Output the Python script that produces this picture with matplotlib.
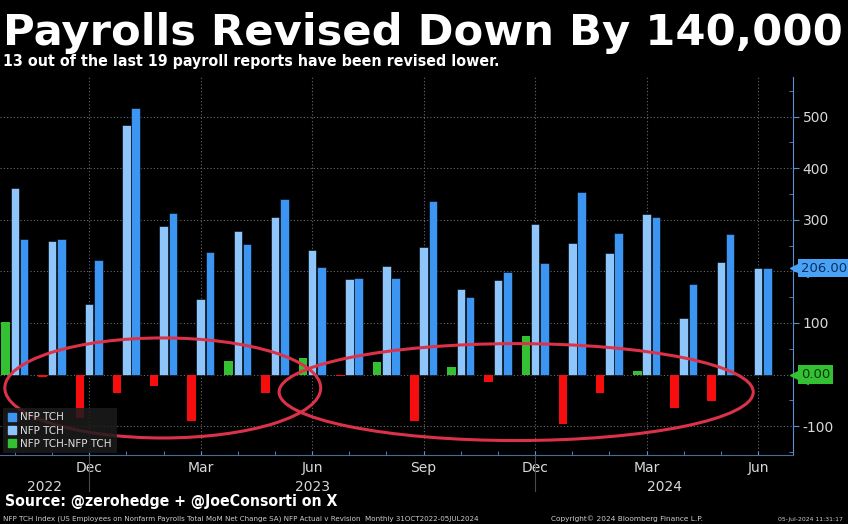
import matplotlib
matplotlib.use('Agg')
import matplotlib.pyplot as plt
import matplotlib.transforms as mtransforms
from matplotlib.patches import Ellipse, Patch
from matplotlib import font_manager
import numpy as np

# ---------------------------------------------------------------------------
# Data (thousands of jobs)
# ---------------------------------------------------------------------------
months = ['Oct', 'Nov', 'Dec', 'Jan', 'Feb', 'Mar', 'Apr', 'May', 'Jun', 'Jul',
          'Aug', 'Sep', 'Oct', 'Nov', 'Dec', 'Jan', 'Feb', 'Mar', 'Apr', 'May', 'Jun']
years = ['2022', '2023', '2024']
nfp_revised = [262, 263, 223, 517, 313, 237, 254, 340, 209, 188, 188,
               337, 151, 199, 217, 354, 275, 305, 175, 272, 206]
nfp_initial = [361, 259, 137, 483, 289, 146, 279, 305, 241, 185, 211,
               247, 166, 183, 292, 256, 236, 311, 109, 219, 206]
nfp_diff = [101, -4, -85, -35, -22, -90, 27, -35, 33, -2, 24,
            -90, 15, -15, 75, -95, -36, 7, -64, -51, 0]
labelled_months = ['Dec', 'Mar', 'Jun', 'Sep']

DARK_BLUE = '#3d95f2'
LIGHT_BLUE = '#8ec6fb'
GREEN = '#33c133'
RED = '#f70d0d'
ELLIPSE = '#dc3249'
TICK_TXT = '#d9d9d9'
SPINE = '#5d8fd0'

W, H = 848, 524


def find_font(patterns):
    for f in font_manager.fontManager.ttflist:
        for p in patterns:
            if p.lower() in f.fname.lower().replace(' ', ''):
                return font_manager.FontProperties(fname=f.fname)
    return None


cond = find_font(['DejaVuSansCondensed-Bold', 'LiberationSansNarrow-Bold',
                  'RobotoCondensed-Bold'])
if cond is None:
    cond = font_manager.FontProperties(family='DejaVu Sans', weight='bold')


def fit_text(fig, x, y, s, width, size, **kw):
    """Put text at pixel position (x, baseline y) and scale it to a pixel width."""
    t = fig.text(x / W, 1 - y / H, s, fontsize=size, va='baseline', **kw)
    w = t.get_window_extent(renderer=fig.canvas.get_renderer()).width
    t.set_fontsize(size * width / w)
    return t


fig = plt.figure(figsize=(W / 100, H / 100), dpi=100, facecolor='black')
ax = fig.add_axes([0, (H - 455) / H, 793 / W, 378 / H])
ax.set_facecolor('black')

x = np.arange(len(months))
bw = 0.23
diff_colors = [GREEN if v >= 0 else RED for v in nfp_diff]
ax.bar(x - 0.25, nfp_diff, bw, color=diff_colors, edgecolor='none', zorder=3)
ax.bar(x, nfp_initial, bw, color=LIGHT_BLUE, edgecolor='black', linewidth=0.4, zorder=3)
ax.bar(x + 0.25, nfp_revised, bw, color=DARK_BLUE, edgecolor='black', linewidth=0.4, zorder=3)

ax.set_xlim(-0.4, 20.94)
ax.set_ylim(-156, 577)

# x axis: month ticks, labelled quarterly
major_x = [i for i, m in enumerate(months) if m in labelled_months]
ax.set_xticks(major_x)
ax.set_xticklabels([months[i] for i in major_x])
ax.set_xticks(x, minor=True)
ax.tick_params(axis='x', which='both', direction='in', length=3, color=SPINE,
               labelcolor=TICK_TXT, labelsize=10, pad=4)

# y axis on the right
ax.yaxis.tick_right()
ax.set_yticks(np.arange(-100, 501, 100))
ax.set_yticklabels(['' if v in (0, 200) else str(v) for v in range(-100, 501, 100)])
ax.set_yticks(np.arange(-150, 577, 50), minor=True)
ax.tick_params(axis='y', which='major', direction='out', length=4, color=SPINE,
               labelcolor=TICK_TXT, labelsize=10, pad=3)
ax.tick_params(axis='y', which='minor', direction='in', length=3, color=SPINE)

for side in ['top', 'left']:
    ax.spines[side].set_visible(False)
ax.spines['right'].set_color(SPINE)
ax.spines['bottom'].set_color('#4a6a9a')
ax.grid(which='major', color='#6a6a6a', linestyle=(0, (1, 2)), linewidth=0.8, zorder=0)

# year separators and year labels
seps = [i for i, m in enumerate(months) if m == 'Dec']
for s in seps:
    ax.axvline(s, ymin=-0.095, ymax=0, color='#4a4a4a', linewidth=0.8, clip_on=False)
edges = [ax.get_xlim()[0]] + seps + [ax.get_xlim()[1]]
for i, yr in enumerate(years):
    ax.text((edges[i] + edges[i + 1]) / 2, -0.085, yr, transform=ax.get_xaxis_transform(),
            ha='center', va='center', color=TICK_TXT, fontsize=10)

# last value tags
blend = mtransforms.blended_transform_factory(ax.transAxes, ax.transData)
for val, txt, fc, tc in [(nfp_revised[-1], f'{nfp_revised[-1]:.2f}', '#4aa2f6', '#08305c'),
                         (nfp_diff[-1], f'{nfp_diff[-1]:.2f}', GREEN, '#0a3a0a')]:
    ax.plot([1.008], [val], marker='<', markersize=13, color=fc, transform=blend,
            clip_on=False, zorder=6)
    ax.text(1.010, val, txt, transform=blend, ha='left', va='center', fontsize=9.5,
            color=tc, zorder=7,
            bbox=dict(boxstyle='square,pad=0.2', fc=fc, ec='none'))

# hand-drawn highlight ellipses
ax.add_patch(Ellipse((3.98, -26), 8.5, 194, fill=False, edgecolor=ELLIPSE,
                     linewidth=2.2, zorder=5, clip_on=False))
ax.add_patch(Ellipse((13.49, -34), 12.76, 188, fill=False, edgecolor=ELLIPSE,
                     linewidth=2.2, zorder=5, clip_on=False))

handles = [Patch(color=DARK_BLUE, label='NFP TCH'),
           Patch(color=LIGHT_BLUE, label='NFP TCH'),
           Patch(color=GREEN, label='NFP TCH-NFP TCH')]
leg = ax.legend(handles=handles, loc='lower left', bbox_to_anchor=(0.002, 0.0),
                fontsize=7.5, frameon=True, fancybox=False, facecolor='#1c1c1c',
                edgecolor='none', framealpha=0.85, labelcolor='#e0e0e0',
                handlelength=0.8, handleheight=0.9, handletextpad=0.4,
                labelspacing=0.3, borderpad=0.45, borderaxespad=0.15)
leg.set_zorder(8)

# header and footer
fit_text(fig, 3, 45, 'Payrolls Revised Down By 140,000', 840, 30,
         color='white', fontweight='bold', family='DejaVu Sans')
fit_text(fig, 3, 66, '13 out of the last 19 payroll reports have been revised lower.', 494, 11,
         color='white', fontproperties=cond)
fit_text(fig, 5, 506, 'Source: @zerohedge + @JoeConsorti on X', 333, 12,
         color='white', fontproperties=cond)
fit_text(fig, 3, 521, 'NFP TCH Index (US Employees on Nonfarm Payrolls Total MoM Net Change SA) '
         'NFP Actual v Revision  Monthly 31OCT2022-05JUL2024', 481, 5, color='#cfcfcf')
fit_text(fig, 551, 521, 'Copyright\u00a9 2024 Bloomberg Finance L.P.', 152, 5, color='#cfcfcf')
fit_text(fig, 778, 521, '05-Jul-2024 11:31:17', 66, 5, color='#cfcfcf')

fig.savefig('out.png', dpi=100, facecolor='black')
plt.close(fig)
